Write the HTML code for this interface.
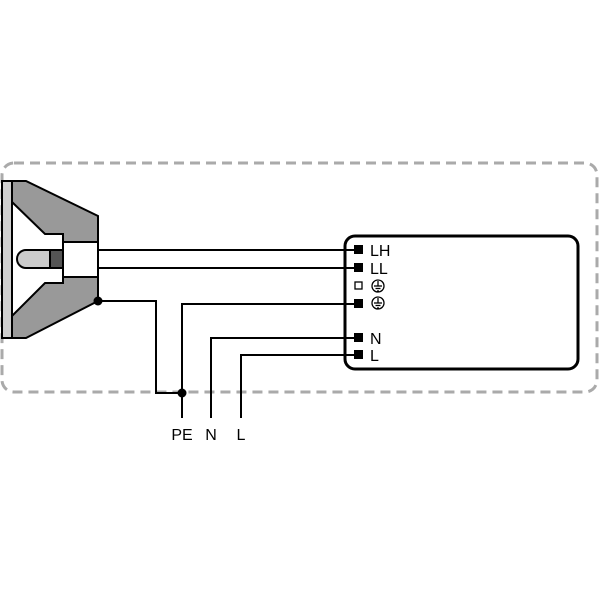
<!DOCTYPE html>
<html><head><style>body{margin:0;background:#fff}svg{display:block}</style></head><body>
<svg width="600" height="600" viewBox="0 0 600 600" xmlns="http://www.w3.org/2000/svg">
<rect x="2" y="163" width="595" height="229" rx="12" fill="none" stroke="#aaa" stroke-width="3" stroke-dasharray="10,6"/>
<rect x="2" y="181" width="10" height="157" fill="#d0d0d0" stroke="#000" stroke-width="2"/>
<polygon points="12,181 26,181 98,216 98,301 26,338 12,338" fill="#999" stroke="#000" stroke-width="2"/>
<polygon points="12,202 45,234 63,234 63,283 45,283 12,316" fill="#fff" stroke="#000" stroke-width="2"/>
<rect x="63" y="242" width="35" height="35" fill="#fff" stroke="#000" stroke-width="2"/>
<path d="M50,250 H26 A9,9 0 0 0 26,268 H50 Z" fill="#ccc" stroke="#000" stroke-width="2"/>
<rect x="50" y="250" width="13" height="18" fill="#555" stroke="#000" stroke-width="2"/>
<g fill="none" stroke="#000" stroke-width="2">
<line x1="98" y1="250" x2="356" y2="250"/>
<line x1="98" y1="268" x2="356" y2="268"/>
<polyline points="98,301 156,301 156,393 182,393"/>
<polyline points="356,304 182,304 182,418"/>
<polyline points="356,338 211,338 211,418"/>
<polyline points="356,355 241,355 241,418"/>
</g>
<circle cx="98" cy="301" r="4.5" fill="#000"/>
<circle cx="182" cy="393" r="4.5" fill="#000"/>
<rect x="345" y="236" width="233" height="133" rx="10" fill="none" stroke="#000" stroke-width="3"/>
<g fill="#000">
<rect x="354" y="245" width="9" height="9"/>
<rect x="354" y="263" width="9" height="9"/>
<rect x="354" y="299" width="9" height="9"/>
<rect x="354" y="333" width="9" height="9"/>
<rect x="354" y="350" width="9" height="9"/>
</g>
<rect x="355" y="282" width="7" height="7" fill="#fff" stroke="#000" stroke-width="1.3"/>
<g font-family="Liberation Sans, sans-serif" font-size="16" fill="#000">
<text x="370" y="256">LH</text>
<text x="370" y="274">LL</text>
<text x="370" y="344">N</text>
<text x="370" y="361">L</text>
<text x="182" y="440" text-anchor="middle">PE</text>
<text x="211" y="440" text-anchor="middle">N</text>
<text x="241" y="440" text-anchor="middle">L</text>
</g>
<g fill="none" stroke="#000" stroke-width="1.3">
<circle cx="378" cy="286" r="6"/>
<line x1="378" y1="281" x2="378" y2="286"/><line x1="374" y1="286" x2="382" y2="286"/><line x1="375.5" y1="288.5" x2="380.5" y2="288.5"/><line x1="377" y1="291" x2="379" y2="291"/>
<circle cx="378" cy="303" r="6"/>
<line x1="378" y1="298" x2="378" y2="303"/><line x1="374" y1="303" x2="382" y2="303"/><line x1="375.5" y1="305.5" x2="380.5" y2="305.5"/><line x1="377" y1="308" x2="379" y2="308"/>
</g>
</svg>
</body></html>
